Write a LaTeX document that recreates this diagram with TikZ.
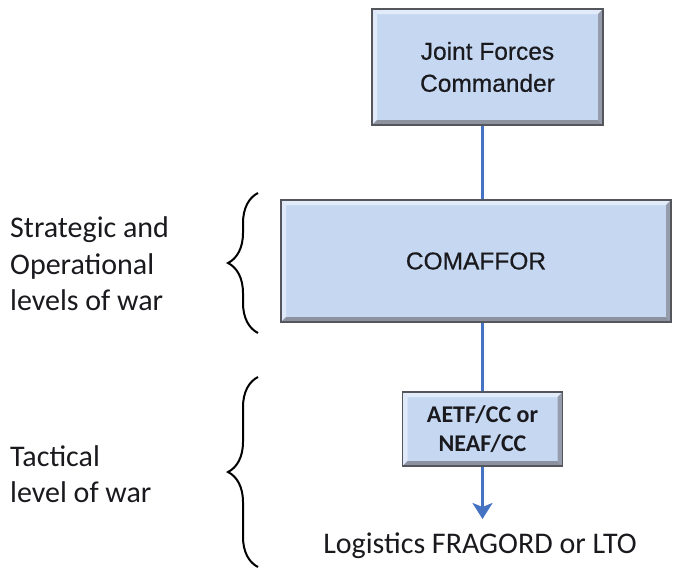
\documentclass[tikz,border=0pt]{standalone}
\usepackage{fontspec}
\setmainfont{Carlito}
\newfontfamily\boxfont[FakeBold=0.5]{Liberation Sans}
\usetikzlibrary{arrows.meta,decorations.pathreplacing,calc}
\definecolor{boxfill}{RGB}{198,216,241}
\definecolor{boxedge}{RGB}{85,85,92}
\definecolor{bevellight}{RGB}{226,235,250}
\definecolor{beveldark}{RGB}{140,146,160}
\definecolor{linkblue}{RGB}{70,114,196}
\definecolor{textdark}{RGB}{25,25,30}
\tikzset{
  cmdbox/.style={draw=boxedge, line width=1.3pt, fill=boxfill, inner sep=0pt,
    align=center, text=textdark, font=\boxfont\fontsize{24.5}{32}\selectfont,
    path picture={
      \coordinate (pnw) at (path picture bounding box.north west);
      \coordinate (pne) at (path picture bounding box.north east);
      \coordinate (psw) at (path picture bounding box.south west);
      \coordinate (pse) at (path picture bounding box.south east);
      \fill[bevellight] (pnw) -- (pne) -- ($(pne)+(-5,5)$) -- ($(pnw)+(5,5)$) -- cycle;
      \fill[bevellight!90!boxfill] (pnw) -- ($(pnw)+(5,5)$) -- ($(psw)+(5,-5)$) -- (psw) -- cycle;
      \fill[beveldark] (psw) -- (pse) -- ($(pse)+(-5,-5)$) -- ($(psw)+(5,-5)$) -- cycle;
      \fill[beveldark!85!boxfill] (pne) -- (pse) -- ($(pse)+(-5,-5)$) -- ($(pne)+(-5,5)$) -- cycle;
    }},
  link/.style={draw=linkblue, line width=2.6pt},
  levelbrace/.style={decorate, decoration={brace, amplitude=30pt}, line width=2pt},
  levellabel/.style={anchor=west, align=left, text=textdark, font=\fontsize{30}{36.5}\selectfont, inner sep=0pt},
}
\begin{document}
\begin{tikzpicture}[x=1pt, y=-1pt]
  \useasboundingbox (0,0) rectangle (675,571);

  % command boxes
  \node[cmdbox, minimum width=231pt, minimum height=116pt] (jfc) at (487.5,67)
    {\raisebox{-3pt}{\parbox{220pt}{\centering Joint Forces\\Commander}}};
  \node[cmdbox, minimum width=390pt, minimum height=122pt] (comaffor) at (476,261) {COMAFFOR};
  \node[cmdbox, minimum width=160pt, minimum height=74pt,
        font=\bfseries\fontsize{24}{29}\selectfont] (aetf) at (482.5,429) {AETF/CC or\\NEAF/CC};
  \node[font=\fontsize{30}{32}\selectfont, text=textdark, inner sep=0pt] (lto) at (480,546) {Logistics FRAGORD or LTO};

  % connectors
  \draw[link] (jfc.south -| aetf) -- (comaffor.north -| aetf);
  \draw[link] (comaffor.south -| aetf) -- (aetf.north);
  \coordinate (ltotop) at (482.5,519);
  \draw[link, -{Stealth[length=16pt, width=20pt, inset=4pt]}] (aetf.south) -- (ltotop);

  % level brackets
  \coordinate (b1bot) at (258,333);
  \coordinate (b1top) at (258,193);
  \coordinate (b2bot) at (258,567);
  \coordinate (b2top) at (258,377);
  \draw[levelbrace] (b1bot) -- (b1top);
  \draw[levelbrace] (b2bot) -- (b2top);

  % level labels
  \node[levellabel] (strat) at (10,264) {Strategic and\\Operational\\levels of war};
  \node[levellabel] (tact) at (10,474) {Tactical\\level of war};
\end{tikzpicture}
\end{document}
